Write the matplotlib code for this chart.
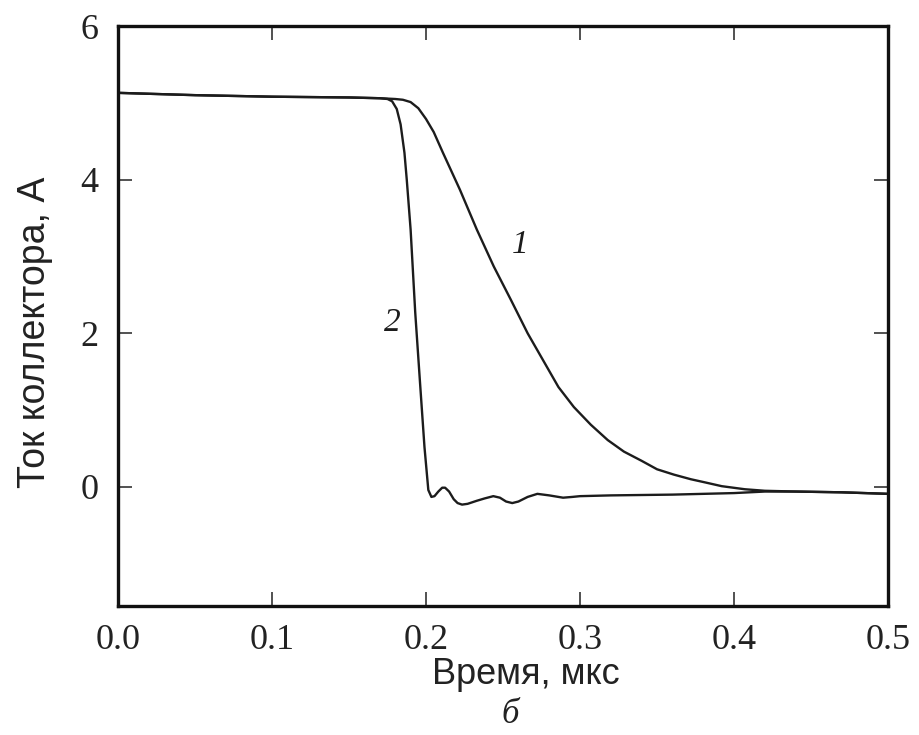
import matplotlib
matplotlib.use("Agg")
import matplotlib.pyplot as plt

# Curve 1 (slow turn-off)
t1 = [0.0, 0.05, 0.10, 0.15, 0.17, 0.18, 0.185, 0.19, 0.195, 0.20, 0.205, 0.211,
      0.222, 0.233, 0.244, 0.255, 0.266, 0.276, 0.286, 0.296, 0.307, 0.318, 0.3285,
      0.34, 0.35, 0.361, 0.372, 0.381, 0.392, 0.407, 0.42, 0.44, 0.47, 0.50]
i1 = [5.13, 5.10, 5.08, 5.07, 5.06, 5.05, 5.04, 5.01, 4.93, 4.79, 4.62, 4.35,
      3.87, 3.35, 2.87, 2.44, 2.00, 1.65, 1.30, 1.04, 0.81, 0.61, 0.46,
      0.34, 0.23, 0.16, 0.10, 0.06, 0.01, -0.03, -0.05, -0.06, -0.07, -0.09]

# Curve 2 (fast turn-off)
t2 = [0.0, 0.05, 0.10, 0.15, 0.17, 0.175, 0.178, 0.181, 0.1835, 0.186, 0.1875,
      0.190, 0.193, 0.196, 0.199, 0.2015, 0.2035, 0.2055, 0.208, 0.2105, 0.2124,
      0.215, 0.218, 0.2205, 0.2234, 0.227, 0.233, 0.238, 0.2437, 0.248, 0.252,
      0.256, 0.26, 0.266, 0.2723, 0.28, 0.289, 0.295, 0.30, 0.32, 0.36, 0.40,
      0.42, 0.44, 0.47, 0.50]
i2 = [5.13, 5.10, 5.08, 5.07, 5.06, 5.05, 5.02, 4.92, 4.72, 4.35, 4.00,
      3.35, 2.27, 1.39, 0.52, -0.04, -0.13, -0.12, -0.06, -0.01, -0.01,
      -0.06, -0.16, -0.21, -0.23, -0.22, -0.18, -0.15, -0.12, -0.14, -0.19,
      -0.21, -0.19, -0.13, -0.09, -0.11, -0.14, -0.13, -0.12, -0.11, -0.10, -0.08,
      -0.06, -0.06, -0.07, -0.09]

x_ticks = [0.0, 0.1, 0.2, 0.3, 0.4, 0.5]
x_ticklabels = ["0.0", "0.1", "0.2", "0.3", "0.4", "0.5"]
y_ticks = [0, 2, 4, 6]
y_ticklabels = ["0", "2", "4", "6"]

curve_labels = ["1", "2"]
curve_label_pos = [(0.261, 3.15), (0.178, 2.14)]

fig = plt.figure(figsize=(9.19, 7.35), dpi=100)
ax = fig.add_axes([0.1284, 0.1755, 0.8379, 0.7891])

ax.plot(t1, i1, color="#1c1c1c", lw=1.7, solid_joinstyle="round")
ax.plot(t2, i2, color="#1c1c1c", lw=1.7, solid_joinstyle="round")

for lab, (x, y) in zip(curve_labels, curve_label_pos):
    ax.text(x, y, lab, family="Liberation Serif", style="italic", fontsize=24,
            ha="center", va="center", color="#1c1c1c")

ax.set_xlim(0, 0.5)
ax.set_ylim(-1.55, 6)
ax.set_xticks(x_ticks)
ax.set_xticklabels(x_ticklabels)
ax.set_yticks(y_ticks)
ax.set_yticklabels(y_ticklabels)

for lbl in ax.get_xticklabels() + ax.get_yticklabels():
    lbl.set_family("Liberation Serif")
    lbl.set_fontsize(26)
    lbl.set_color("#222222")

ax.tick_params(direction="in", length=10, width=1.2, top=True, right=True,
               color="#333333")
ax.tick_params(axis="x", pad=13)
ax.tick_params(axis="y", pad=14)

for sp in ax.spines.values():
    sp.set_linewidth(2.4)
    sp.set_color("#111111")

ax.set_xlabel("Время, мкс", family="Liberation Sans", fontsize=26, color="#222222")
ax.xaxis.set_label_coords(0.53, -0.088)
ax.set_ylabel("Ток коллектора, А", family="Liberation Sans", fontsize=27,
              color="#222222")
ax.yaxis.set_label_coords(-0.085, 0.472)

ax.text(0.509, -0.187, "б", transform=ax.transAxes, family="Liberation Serif",
        style="italic", fontsize=25, ha="center", va="center", color="#222222")

fig.savefig("out.png", dpi=100)
